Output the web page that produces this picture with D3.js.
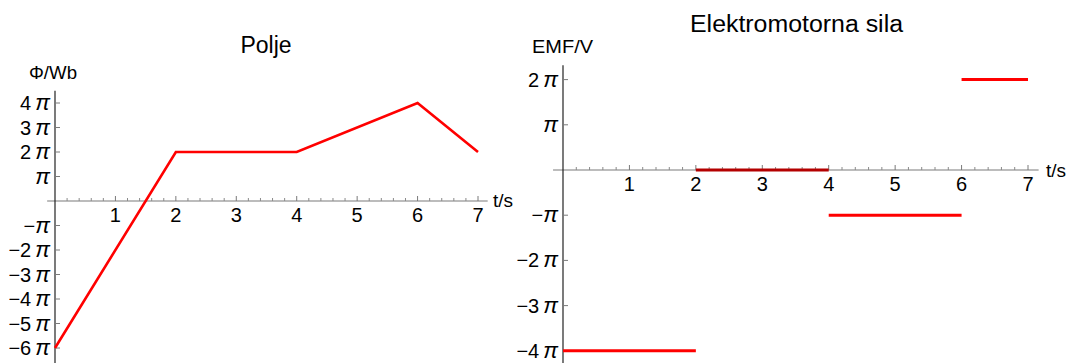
<!DOCTYPE html>
<html><head><meta charset="utf-8">
<script src="https://cdn.jsdelivr.net/npm/d3@7"></script>
<style>body{margin:0;background:#fff}text{font-family:"Liberation Sans",Arial,sans-serif;fill:#000}</style>
</head><body><svg id="c" width="1069" height="363"></svg>
<script>
const PI = Math.PI;
// Left chart: magnetic flux (in units of pi)
const fluxT = [0, 2, 4, 6, 7];
const fluxPi = [-6, 2, 2, 4, 2];
// Right chart: EMF segments (in units of pi)
const emfStart = [0, 2, 4, 6];
const emfEnd = [2, 4, 6, 7];
const emfPi = [-4, 0, -1, 2];
const xTickLabels = [1, 2, 3, 4, 5, 6, 7];
const leftYTicksPi = [-6, -5, -4, -3, -2, -1, 1, 2, 3, 4];
const rightYTicksPi = [-4, -3, -2, -1, 1, 2];

const svg = d3.select("#c");
function numPart(k){ if(k===1) return ""; if(k===-1) return "−"; return (k<0?"−"+(-k):String(k))+"\u2009"; }

function drawAxes(g, x, y, cfg){
  const minor = d3.range(1, 36).map(i=>i/5).filter(v=>Math.abs(v-Math.round(v))>1e-6);
  g.append("line").attr("x1", x(cfg.xMin)).attr("x2", x(cfg.xMax)).attr("y1", y(0)).attr("y2", y(0))
    .attr("stroke", "#7a7a7a").attr("stroke-width", 1.2);
  g.selectAll(".mn").data(minor).enter().append("line")
    .attr("x1", d=>x(d)).attr("x2", d=>x(d)).attr("y1", y(0)).attr("y2", y(0)-3)
    .attr("stroke", "#8a8a8a").attr("stroke-width", 1);
  g.selectAll(".mj").data(xTickLabels).enter().append("line")
    .attr("x1", d=>x(d)).attr("x2", d=>x(d)).attr("y1", y(0)).attr("y2", y(0)-5)
    .attr("stroke", "#7a7a7a").attr("stroke-width", 1);
  g.selectAll(".xl").data(xTickLabels).enter().append("text")
    .attr("x", d=>x(d)).attr("y", y(0)+21).attr("text-anchor", "middle")
    .attr("font-size", 20).text(d=>d);
  g.append("line").attr("x1", x(0)).attr("x2", x(0)).attr("y1", y(cfg.yMax*PI)).attr("y2", 363)
    .attr("stroke", "#222").attr("stroke-width", 1.2);
  g.selectAll(".yt").data(cfg.yTicks).enter().append("line")
    .attr("x1", x(0)).attr("x2", x(0)+5).attr("y1", d=>y(d*PI)).attr("y2", d=>y(d*PI))
    .attr("stroke", "#7a7a7a").attr("stroke-width", 1);
  const yl = g.selectAll(".yl").data(cfg.yTicks).enter().append("text")
    .attr("x", x(0)-5).attr("y", d=>y(d*PI)+7).attr("text-anchor", "end")
    .attr("font-size", 20);
  yl.append("tspan").text(d=>numPart(d));
  yl.append("tspan").attr("font-style", "italic").attr("font-size", 22).text("π");
}

// LEFT
const xL = d3.scaleLinear().domain([0, 7]).range([55, 478]);
const yL = d3.scaleLinear().domain([0, 4*PI]).range([201, 103]);
const gL = svg.append("g");
drawAxes(gL, xL, yL, {xMin:-0.13, xMax:7.16, yMax:4.5, yTicks:leftYTicksPi});
gL.append("path").datum(fluxT.map((t,i)=>[t, fluxPi[i]*PI]))
  .attr("d", d3.line().x(d=>xL(d[0])).y(d=>yL(d[1])))
  .attr("fill", "none").attr("stroke", "#ff0000").attr("stroke-width", 2.6).attr("stroke-linejoin", "miter");
gL.append("text").attr("x", 266).attr("y", 53).attr("text-anchor", "middle").attr("font-size", 23).text("Polje");
gL.append("text").attr("x", 29).attr("y", 79).attr("font-size", 18).attr("textLength", 48).attr("lengthAdjust", "spacingAndGlyphs").text("Φ/Wb");
gL.append("text").attr("x", 493).attr("y", 207).attr("font-size", 19).text("t/s");

// RIGHT
const xR = d3.scaleLinear().domain([0, 7]).range([563, 1028]);
const yR = d3.scaleLinear().domain([0, 2*PI]).range([170, 79.6]);
const gR = svg.append("g");
drawAxes(gR, xR, yR, {xMin:-0.15, xMax:7.16, yMax:2.32, yTicks:rightYTicksPi});
gR.selectAll(".seg").data(emfPi).enter().append("line")
  .attr("x1", (d,i)=>xR(emfStart[i])).attr("x2", (d,i)=>xR(emfEnd[i]))
  .attr("y1", d=>yR(d*PI)).attr("y2", d=>yR(d*PI))
  .attr("stroke", d=>d===0 ? "#b40000" : "#ff0000").attr("stroke-width", 3);
gR.append("text").attr("x", 690).attr("y", 32).attr("font-size", 23).attr("textLength", 213).attr("lengthAdjust", "spacingAndGlyphs").text("Elektromotorna sila");
gR.append("text").attr("x", 532).attr("y", 53).attr("font-size", 19).attr("textLength", 61).attr("lengthAdjust", "spacingAndGlyphs").text("EMF/V");
gR.append("text").attr("x", 1046).attr("y", 177).attr("font-size", 19).text("t/s");
</script></body></html>
